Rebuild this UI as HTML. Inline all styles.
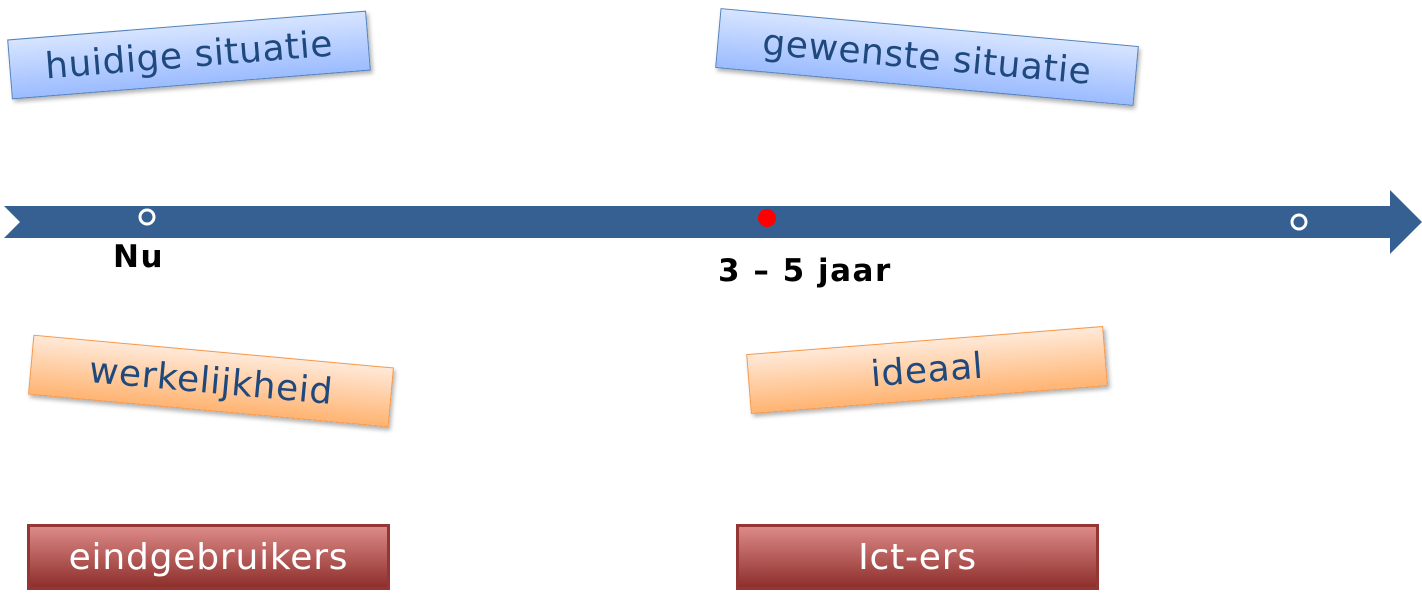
<!DOCTYPE html>
<html><head><meta charset="utf-8"><style>
body{margin:0;width:1422px;height:602px;background:#fff;position:relative;overflow:hidden;font-family:"DejaVu Sans","Liberation Sans",sans-serif}
.b{position:absolute;box-sizing:border-box;display:flex;align-items:center;justify-content:center;font-size:36px;letter-spacing:0.6px;color:#1f497d;box-shadow:2px 3px 4px rgba(0,0,0,.3)}
.blue{background:linear-gradient(#d6e4ff,#9cbcff);border:1.5px solid #4f81bd}
.or{background:linear-gradient(#ffe9d8,#ffb472);border:1.5px solid #f79646}
.red{background:linear-gradient(#dc8a88,#8e2f2c);border:3px solid #943634;color:#fff;box-shadow:none;font-size:36px;letter-spacing:0.8px}
.t{position:absolute;font-weight:bold;font-size:31px;letter-spacing:1.5px;color:#000}
</style></head><body>
<div class="b blue" style="left:9px;top:25px;width:360px;height:60px;transform:rotate(-4.6deg)">huidige situatie</div>
<div class="b blue" style="left:717px;top:27px;width:420px;height:60px;transform:rotate(5.2deg)">gewenste situatie</div>
<svg style="position:absolute;left:0;top:0" width="1422" height="602">
<polygon points="4,206 1390,206 1390,190 1422,222 1390,254 1390,238 4,238 20,222" fill="#366092"/>
<circle cx="147" cy="217" r="7" fill="#366092" stroke="#fff" stroke-width="3"/>
<circle cx="767" cy="218" r="9" fill="#ff0000"/>
<circle cx="1299" cy="222" r="7" fill="#366092" stroke="#fff" stroke-width="3"/>
</svg>
<div class="t" style="left:113px;top:239px">Nu</div>
<div class="t" style="left:718px;top:253px">3 – 5 jaar</div>
<div class="b or" style="left:30px;top:351px;width:362px;height:60px;transform:rotate(5.2deg)">werkelijkheid</div>
<div class="b or" style="left:748px;top:340px;width:358px;height:60px;transform:rotate(-4.5deg)">ideaal</div>
<div class="b red" style="left:27px;top:524px;width:363px;height:66px">eindgebruikers</div>
<div class="b red" style="left:736px;top:524px;width:363px;height:66px">Ict-ers</div>
</body></html>
